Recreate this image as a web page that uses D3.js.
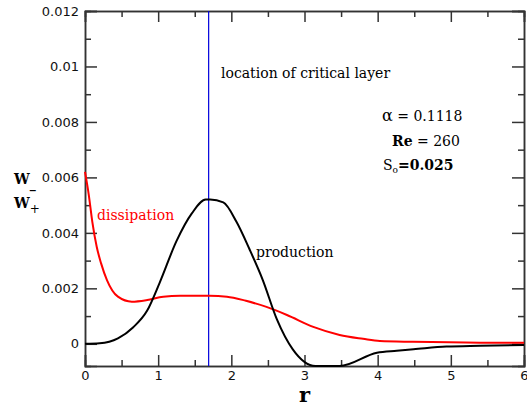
<!DOCTYPE html>
<html>
<head>
  <meta charset="utf-8">
  <script src="https://d3js.org/d3.v7.min.js"></script>
  <style>
    body { margin: 0; background: #fff; }
    .axis text { font-family: "DejaVu Sans", sans-serif; font-size: 13px; fill: #111; }
    .note { font-family: "DejaVu Serif", serif; font-size: 14px; }
  </style>
</head>
<body>
<div id="chart"></div>
<script>
  // production curve (black)
  const productionR = [0, 0.2, 0.45, 0.66, 0.85, 1.02, 1.25, 1.46, 1.65, 1.71, 1.89, 2.07, 2.25, 2.43, 2.62, 2.84, 3.15, 3.48, 3.99, 4.26, 4.49, 4.94, 5.4, 6];
  const productionW = [0, 0.00002, 0.0002, 0.0006, 0.0012, 0.0022, 0.0037, 0.0047, 0.0052, 0.0052, 0.0051, 0.0044, 0.0034, 0.0023, 0.0009, -0.0002, -0.0008, -0.0008, -0.00032, -0.00025, -0.0002, -0.0001, -0.00007, -0.00004];

  // dissipation curve (red)
  const dissipationR = [0, 0.05, 0.1, 0.16, 0.22, 0.3, 0.45, 0.64, 0.85, 1.07, 1.3, 1.7, 1.94, 2.2, 2.48, 2.76, 3.12, 3.48, 3.8, 4.03, 4.48, 5.4, 6];
  const dissipationW = [0.0062, 0.0054, 0.0044, 0.0035, 0.0029, 0.0023, 0.0017, 0.00152, 0.00158, 0.0017, 0.00173, 0.00173, 0.0017, 0.00155, 0.00133, 0.00104, 0.00061, 0.00032, 0.00018, 0.0001, 0.00007, 0.00004, 0.00004];

  const criticalR = 1.69;

  const xTicks = [0, 1, 2, 3, 4, 5, 6];
  const xMinor = [0.5, 1.5, 2.5, 3.5, 4.5, 5.5];
  const yTicks = [0, 0.002, 0.004, 0.006, 0.008, 0.01, 0.012];
  const yMinor = [0.001, 0.003, 0.005, 0.007, 0.009, 0.011];

  const width = 527, height = 406;
  const plotLeft = 85, plotRight = 524, plotTop = 11, plotBottom = 366;

  const svg = d3.select("#chart").append("svg")
    .attr("width", width)
    .attr("height", height);

  const x = d3.scaleLinear().domain([0, 6]).range([plotLeft, plotRight]);
  const y = d3.scaleLinear().domain([-0.0008, 0.012]).range([plotBottom, plotTop]);

  function styleAxis(g) {
    g.selectAll("line").attr("stroke", "#333").attr("stroke-width", 1.5);
    g.select(".domain").attr("stroke", "#333").attr("stroke-width", 1.5);
  }

  // axes, ticks pointing inward
  svg.append("g").attr("class", "axis")
    .attr("transform", `translate(0,${plotBottom})`)
    .call(d3.axisBottom(x).tickValues(xTicks).tickSize(-11).tickPadding(5).tickFormat(d3.format("d")))
    .call(styleAxis);
  svg.append("g").attr("class", "axis")
    .attr("transform", `translate(0,${plotBottom})`)
    .call(d3.axisBottom(x).tickValues(xMinor).tickSize(-6).tickFormat(""))
    .call(styleAxis);

  svg.append("g").attr("class", "axis")
    .attr("transform", `translate(0,${plotTop})`)
    .call(d3.axisTop(x).tickValues(xTicks).tickSize(-11).tickFormat(""))
    .call(styleAxis);
  svg.append("g").attr("class", "axis")
    .attr("transform", `translate(0,${plotTop})`)
    .call(d3.axisTop(x).tickValues(xMinor).tickSize(-6).tickFormat(""))
    .call(styleAxis);

  svg.append("g").attr("class", "axis")
    .attr("transform", `translate(${plotLeft},0)`)
    .call(d3.axisLeft(y).tickValues(yTicks).tickSize(-12).tickPadding(6).tickFormat(d => d === 0 ? "0" : String(d)))
    .call(styleAxis);
  svg.append("g").attr("class", "axis")
    .attr("transform", `translate(${plotLeft},0)`)
    .call(d3.axisLeft(y).tickValues(yMinor).tickSize(-6).tickFormat(""))
    .call(styleAxis);

  svg.append("g").attr("class", "axis")
    .attr("transform", `translate(${plotRight},0)`)
    .call(d3.axisRight(y).tickValues(yTicks).tickSize(-12).tickFormat(""))
    .call(styleAxis);
  svg.append("g").attr("class", "axis")
    .attr("transform", `translate(${plotRight},0)`)
    .call(d3.axisRight(y).tickValues(yMinor).tickSize(-6).tickFormat(""))
    .call(styleAxis);

  // critical layer line
  svg.append("line")
    .attr("x1", x(criticalR)).attr("x2", x(criticalR))
    .attr("y1", y(0.012)).attr("y2", y(-0.0008))
    .attr("stroke", "#0000dd")
    .attr("stroke-width", 1.2);

  const dissData = dissipationR.map((r, i) => [r, dissipationW[i]]);
  const prodData = productionR.map((r, i) => [r, productionW[i]]);

  svg.append("path")
    .datum(dissData)
    .attr("fill", "none")
    .attr("stroke", "#ff0000")
    .attr("stroke-width", 2)
    .attr("d", d3.line().x(d => x(d[0])).y(d => y(d[1])).curve(d3.curveMonotoneX));

  svg.append("path")
    .datum(prodData)
    .attr("fill", "none")
    .attr("stroke", "#000")
    .attr("stroke-width", 2)
    .attr("d", d3.line().x(d => x(d[0])).y(d => y(d[1])).curve(d3.curveMonotoneX));

  // labels
  svg.append("text").attr("class", "note")
    .attr("x", 97).attr("y", 220)
    .attr("fill", "#ff0000")
    .text("dissipation");

  svg.append("text").attr("class", "note")
    .attr("x", 256).attr("y", 257)
    .text("production");

  svg.append("text").attr("class", "note")
    .attr("x", 221).attr("y", 78)
    .text("location of critical layer");

  const alpha = svg.append("text").attr("class", "note")
    .attr("x", 382).attr("y", 121);
  alpha.append("tspan").attr("font-size", 16).text("α");
  alpha.append("tspan").text(" = 0.1118");

  const re = svg.append("text").attr("class", "note")
    .attr("x", 392).attr("y", 146);
  re.append("tspan").attr("font-weight", "bold").text("Re");
  re.append("tspan").text(" = 260");

  const so = svg.append("text").attr("class", "note")
    .attr("x", 383).attr("y", 170);
  so.append("tspan").text("S");
  so.append("tspan").attr("font-size", 9).attr("dy", 3).text("o");
  so.append("tspan").attr("dy", -3).attr("font-weight", "bold").text("=0.025");

  const wm = svg.append("text").attr("class", "note")
    .attr("x", 14).attr("y", 184)
    .attr("font-weight", "bold").attr("font-size", 16);
  wm.append("tspan").text("W");
  wm.append("tspan").attr("font-size", 12).attr("dy", 4).text("_");

  const wp = svg.append("text").attr("class", "note")
    .attr("x", 14).attr("y", 208)
    .attr("font-weight", "bold").attr("font-size", 16);
  wp.append("tspan").text("W");
  wp.append("tspan").attr("font-size", 12).attr("dy", 5).attr("font-weight", "normal").text("+");

  svg.append("text")
    .attr("x", x(3)).attr("y", 402)
    .attr("text-anchor", "middle")
    .attr("font-family", "DejaVu Serif, serif")
    .attr("font-weight", "bold")
    .attr("font-size", 21)
    .text("r");
</script>
</body>
</html>
